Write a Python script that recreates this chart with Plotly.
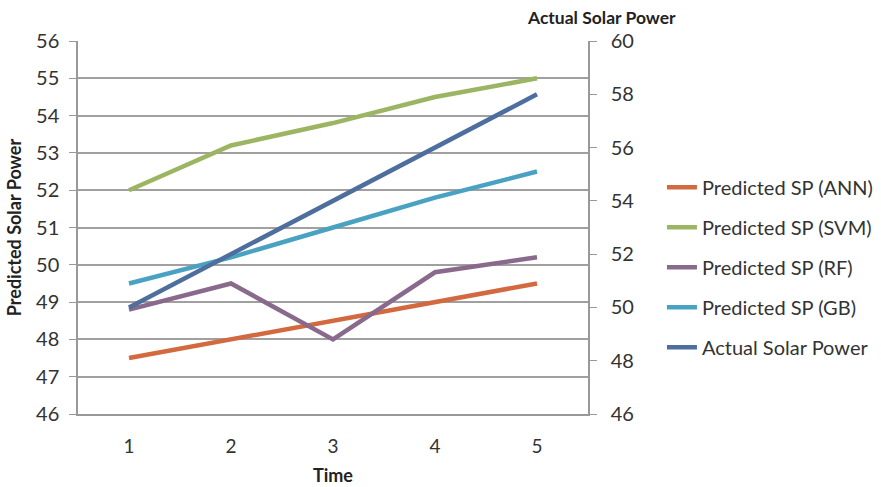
import plotly.graph_objects as go

time = [1, 2, 3, 4, 5]
ann = [47.5, 48.0, 48.5, 49.0, 49.5]
svm = [52.0, 53.2, 53.8, 54.5, 55.0]
rf = [48.8, 49.5, 48.0, 49.8, 50.2]
gb = [49.5, 50.2, 51.0, 51.8, 52.5]
actual = [50, 52, 54, 56, 58]

names = ["Predicted SP (ANN)", "Predicted SP (SVM)", "Predicted SP (RF)", "Predicted SP (GB)", "Actual Solar Power"]
colors = ["#D2693F", "#9BB562", "#8A6A8C", "#4AA2C2", "#4E6E9E"]
series = [ann, svm, rf, gb, actual]
axes = ["y", "y", "y", "y", "y2"]

FONT = "Lato, 'Open Sans', sans-serif"
fig = go.Figure()
for i, (n, c, s, a) in enumerate(zip(names, colors, series, axes)):
    fig.add_trace(go.Scatter(x=time, y=s, name=n, mode="lines", yaxis=a,
                             line=dict(color=c, width=4.5), legendgroup=str(i)))

fig.update_layout(
    width=881, height=487,
    margin=dict(l=78, r=293, t=41, b=73, autoexpand=False),
    plot_bgcolor="white", paper_bgcolor="white",
    font=dict(family=FONT, size=19, color="#333"),
    showlegend=True,
    legend=dict(x=1.145, y=0.66, xanchor="left", yanchor="top",
                font=dict(size=20, color="#333"), tracegroupgap=11,
                bgcolor="rgba(0,0,0,0)"),
    xaxis=dict(range=[0.5, 5.5], tickvals=time, showgrid=False, showline=True,
               linecolor="#999", linewidth=1.5, ticks="", mirror=False, zeroline=False,
               ticklabelstandoff=14,
               title=dict(text="<b>Time</b>", font=dict(size=18, color="#222"), standoff=14),
               tickfont=dict(size=19)),
    yaxis=dict(range=[46, 56], dtick=1, showgrid=True, gridcolor="#A0A0A0", gridwidth=1.5,
               showline=True, linecolor="#999", linewidth=1.5, ticks="outside", ticklen=7,
               tickcolor="#999", zeroline=False, ticklabelstandoff=6,
               title=dict(text="<b>Predicted Solar Power</b>", font=dict(size=18, color="#222"), standoff=10),
               tickfont=dict(size=20)),
    yaxis2=dict(range=[46, 60], dtick=2, overlaying="y", side="right", showgrid=False,
                showline=True, linecolor="#999", linewidth=1.5, ticks="outside", ticklen=7,
                tickcolor="#999", zeroline=False, ticklabelstandoff=10, tickfont=dict(size=20)),
)
fig.add_annotation(text="<b>Actual Solar Power</b>", xref="paper", yref="paper",
                   x=1.027, y=1.0, yshift=11, xanchor="center", yanchor="bottom", showarrow=False,
                   font=dict(size=17.5, color="#222"))
fig.write_html("out.html")
